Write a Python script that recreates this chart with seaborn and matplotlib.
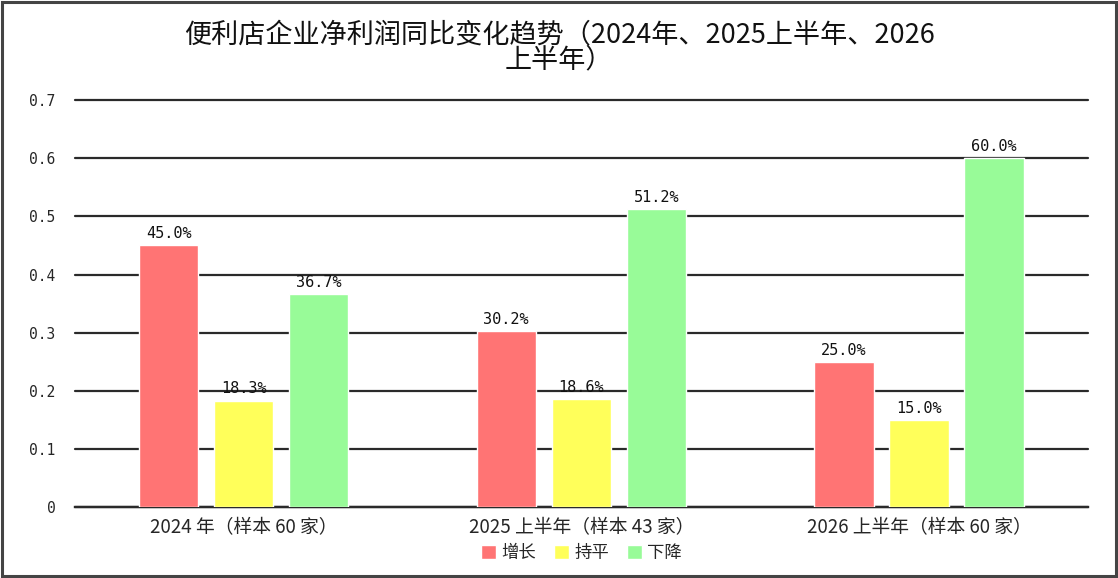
import matplotlib
matplotlib.use("Agg")
import matplotlib.pyplot as plt
import seaborn as sns
import pandas as pd
from matplotlib.patches import Rectangle

# ---- data ----
categories = ["2024 年（样本 60 家）", "2025 上半年（样本 43 家）", "2026 上半年（样本 60 家）"]
series_names = ["增长", "持平", "下降"]
growth = [0.450, 0.302, 0.250]
flat = [0.183, 0.186, 0.150]
decline = [0.367, 0.512, 0.600]
ytick_values = [0, 0.1, 0.2, 0.3, 0.4, 0.5, 0.6, 0.7]
ytick_labels = ["0", "0.1", "0.2", "0.3", "0.4", "0.5", "0.6", "0.7"]
title = "便利店企业净利润同比变化趋势（2024年、2025上半年、2026\n上半年）"
colors = ["#FF7474", "#FFFF5A", "#98FB98"]

rows = []
for name, vals in zip(series_names, [growth, flat, decline]):
    for c, v in zip(categories, vals):
        rows.append({"类别": c, "系列": name, "值": v})
df = pd.DataFrame(rows)

sns.set_style("white")
plt.rcParams["font.family"] = ["Noto Sans CJK SC", "DejaVu Sans"]

fig = plt.figure(figsize=(11.18, 5.78), dpi=100)
ax = fig.add_axes([0.067, 0.1228, 0.906, 0.704])

sns.barplot(data=df, x="类别", y="值", hue="系列", hue_order=series_names,
            order=categories, palette=colors, width=0.667, gap=0.21,
            saturation=1, ax=ax, zorder=3)

for cont in ax.containers:
    ax.bar_label(cont, labels=[f"{b.get_height()*100:.1f}%" for b in cont],
                 padding=3, fontsize=11, family="DejaVu Sans Mono", color="#111111")

ax.set_ylim(0, 0.7)
ax.set_xlim(-0.5, 2.5)
ax.set_yticks(ytick_values)
ax.set_yticklabels(ytick_labels, fontsize=10.5, family="DejaVu Sans Mono")
ax.yaxis.grid(True, color="#2a2a2a", linewidth=1.6, zorder=0)
for gl in ax.get_ygridlines():
    gl.set_clip_on(False)
ax.set_axisbelow(True)
for s in ["left", "right", "top"]:
    ax.spines[s].set_visible(False)
ax.spines["bottom"].set_color("#2a2a2a")
ax.spines["bottom"].set_linewidth(1.7)
ax.tick_params(axis="y", length=0, pad=14)
ax.tick_params(axis="x", length=0, pad=7, labelsize=13.5)
ax.set_xlabel("")
ax.set_ylabel("")

ax.legend(loc="center", bbox_to_anchor=(0.5, -0.113), ncol=3, frameon=False,
          handlelength=0.9, handleheight=0.9, handletextpad=0.3,
          columnspacing=1.0, fontsize=12.5)

fig.text(0.5, 0.918, title, ha="center", va="center", fontsize=19.5,
         linespacing=0.95, color="#111111")

fig.patches.append(Rectangle((0.002, 0.003), 0.996, 0.994, transform=fig.transFigure,
                             fill=False, edgecolor="#444444", linewidth=2.2))

fig.savefig("out.png", dpi=100)
